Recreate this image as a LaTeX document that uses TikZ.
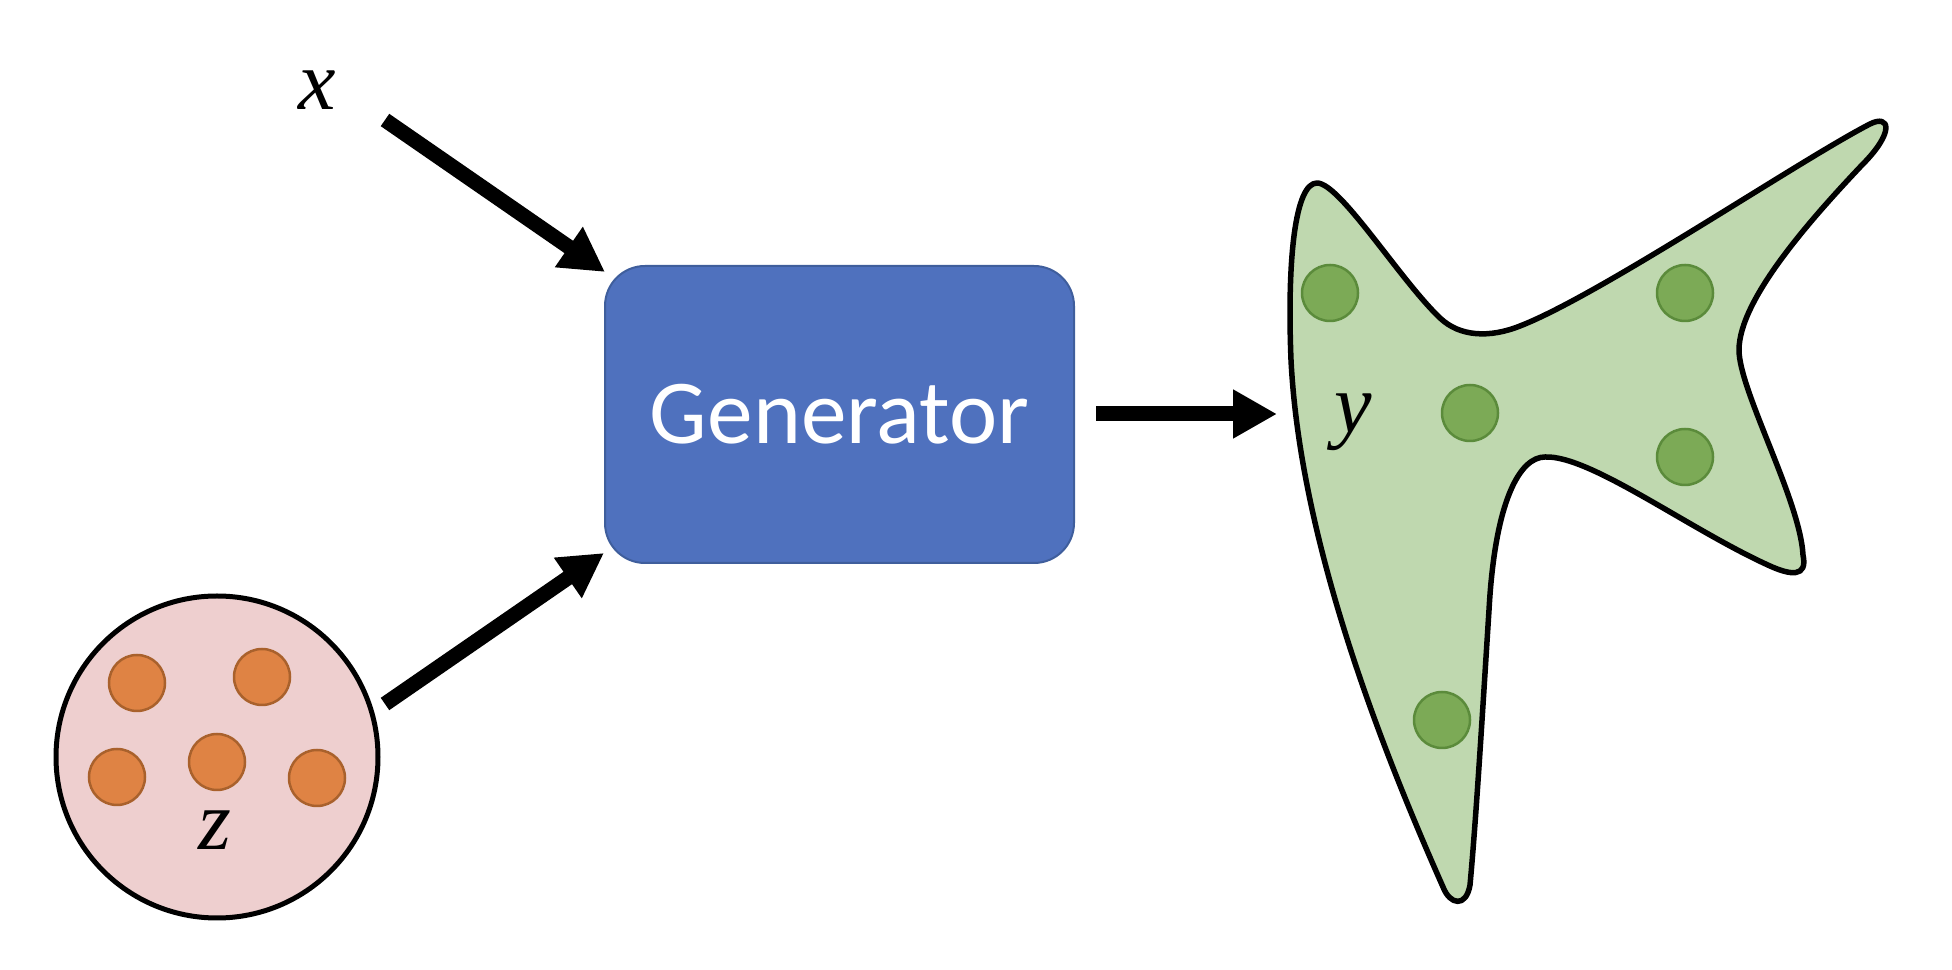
\documentclass[tikz,border=0pt]{standalone}
\usepackage{fontspec}
\setmainfont{Carlito}
\newfontfamily\lblfont{Liberation Serif}
\usetikzlibrary{arrows.meta}
\definecolor{genblue}{HTML}{4F71BE}
\definecolor{genborder}{HTML}{3F5E9C}
\definecolor{zfill}{HTML}{EECFCF}
\definecolor{odot}{HTML}{DF8344}
\definecolor{odotb}{HTML}{A9612C}
\definecolor{yfill}{HTML}{BFD8AF}
\definecolor{gdot}{HTML}{7CAA56}
\definecolor{gdotb}{HTML}{5B8B3B}
\begin{document}
\begin{tikzpicture}[x=0.1mm,y=-0.1mm,
  fatarrow/.style={line width=1.5mm,-{Triangle[length=4.4mm,width=4.6mm]}},
  genbox/.style={draw=genborder,line width=0.2mm,fill=genblue,rounded corners=4mm,
    minimum width=46.9mm,minimum height=29.7mm,text=white,
    font=\fontsize{26pt}{30pt}\selectfont},
  mathlbl/.style={anchor=base,inner sep=0pt,font=\lblfont\itshape\fontsize{24pt}{28pt}\selectfont},
  orangedot/.style={circle,draw=odotb,fill=odot,line width=0.25mm,minimum size=5.6mm,inner sep=0pt},
  greendot/.style={circle,draw=gdotb,fill=gdot,line width=0.25mm,minimum size=5.6mm,inner sep=0pt},
  zcirc/.style={circle,draw=black,fill=zfill,line width=0.5mm,minimum size=32.2mm,inner sep=0pt},
  blob/.style={draw=black,fill=yfill,line width=0.55mm,line join=round}
]
\useasboundingbox (0,0) rectangle (1952,970);

% Generator
\node[genbox] (gen) at (839.5,414.5) {Generator};

% latent circle z
\node[zcirc] (zc) at (217,757) {};
\node[orangedot] (o1) at (137,683) {};
\node[orangedot] (o2) at (262,677) {};
\node[orangedot] (o3) at (117,777) {};
\node[orangedot] (o4) at (217,762) {};
\node[orangedot] (o5) at (317,778) {};
\node[mathlbl] (zl) at (215,850) {z};

% input x
\node[mathlbl] (xl) at (317,110) {x};

% output blob y
\path[blob] (1317,183)
  .. controls (1340,183) and (1400,280) .. (1440,318)
  .. controls (1460,337) and (1490,338) .. (1520,326)
  .. controls (1600,295) and (1800,160) .. (1870,124)
  .. controls (1890,114) and (1895,132) .. (1862,165)
  .. controls (1810,220) and (1739,300) .. (1739,350)
  .. controls (1739,390) and (1800,500) .. (1803,555)
  .. controls (1808,578) and (1790,575) .. (1770,566)
  .. controls (1690,530) and (1590,455) .. (1545,457)
  .. controls (1520,457) and (1495,500) .. (1489,610)
  .. controls (1482,720) and (1476,820) .. (1470,885)
  .. controls (1466,908) and (1450,905) .. (1443,887)
  .. controls (1380,745) and (1300,540) .. (1291,360)
  .. controls (1287,260) and (1295,183) .. (1317,183) -- cycle;
\node[greendot] (g1) at (1330,293) {};
\node[greendot] (g2) at (1685,293) {};
\node[greendot] (g3) at (1470,413) {};
\node[greendot] (g4) at (1685,457) {};
\node[greendot] (g5) at (1442,720) {};
\node[mathlbl] (yl) at (1353,433) {y};

% connectors
\coordinate (xs) at (385,120);
\coordinate (xt) at (605,272);
\coordinate (zs) at (385,704);
\coordinate (zt) at (604,553);
\coordinate (gs) at (1096,414);
\coordinate (ye) at (1277,414);
\draw[fatarrow] (xs) -- (xt);
\draw[fatarrow] (zs) -- (zt);
\draw[fatarrow] (gs) -- (ye);
\end{tikzpicture}
\end{document}
